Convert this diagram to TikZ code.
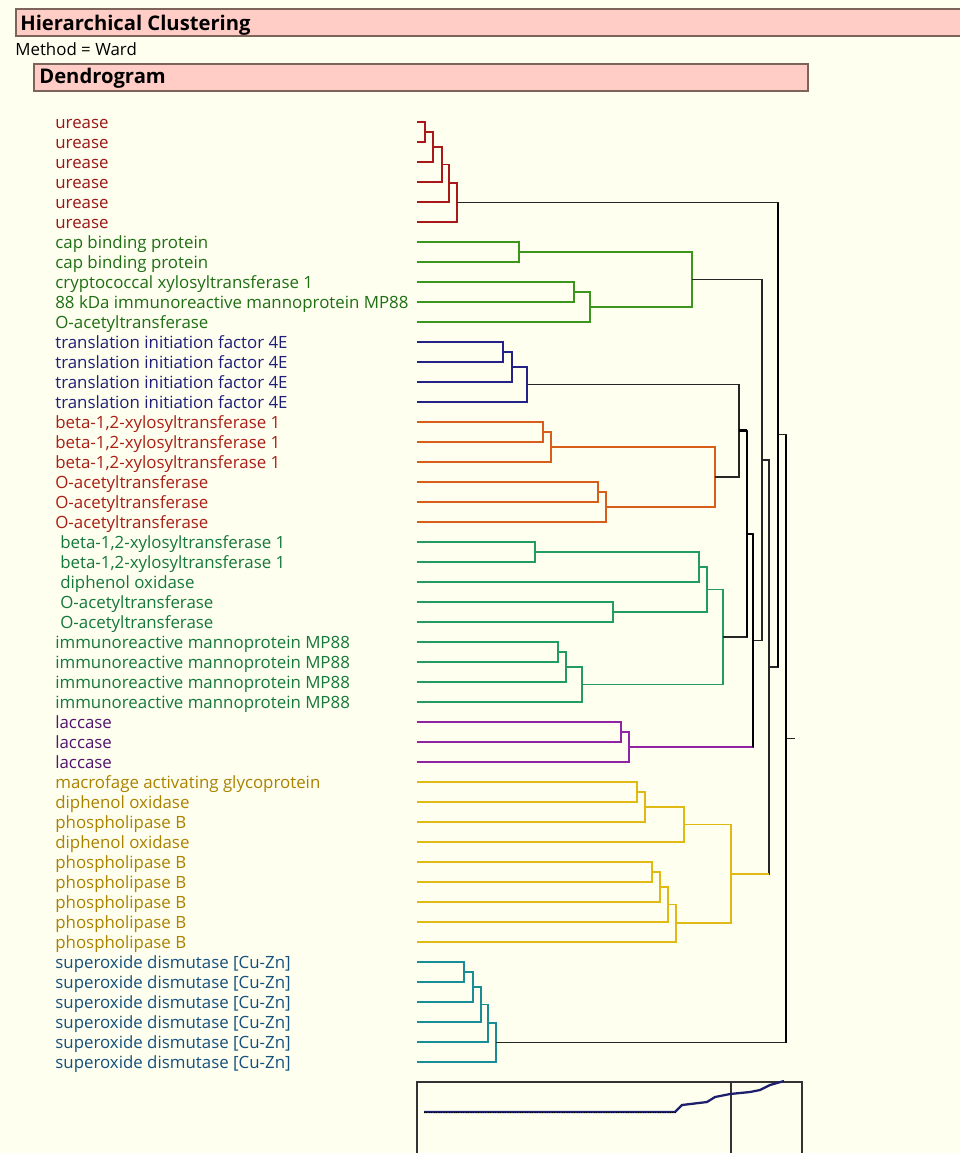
\documentclass[tikz,border=0pt]{standalone}
\usepackage{fontspec}
\setmainfont{Open Sans}

\definecolor{paper}{RGB}{255,255,240}
\definecolor{barfill}{RGB}{255,205,198}
\definecolor{bardraw}{RGB}{125,100,90}
\definecolor{ure}{RGB}{170,25,25}
\definecolor{grn}{RGB}{60,150,30}
\definecolor{blu}{RGB}{35,35,135}
\definecolor{ora}{RGB}{215,95,25}
\definecolor{tea}{RGB}{35,155,100}
\definecolor{lac}{RGB}{145,35,165}
\definecolor{yel}{RGB}{225,185,20}
\definecolor{sod}{RGB}{25,140,150}
\definecolor{txture}{RGB}{155,20,20}
\definecolor{txtgrn}{RGB}{30,110,20}
\definecolor{txtblu}{RGB}{30,30,120}
\definecolor{txtora}{RGB}{170,30,20}
\definecolor{txttea}{RGB}{20,120,60}
\definecolor{txtlac}{RGB}{80,20,110}
\definecolor{txtyel}{RGB}{170,130,0}
\definecolor{txtsod}{RGB}{20,80,125}
\definecolor{curve}{RGB}{30,30,110}

\begin{document}
\begin{tikzpicture}[x=0.02cm, y=-0.02cm,
    bar/.style={fill=barfill},
    rim/.style={draw=bardraw, line width=0.7pt},
    head/.style={anchor=base west, inner sep=0pt, font=\bfseries\fontsize{11.5}{13}\selectfont},
    leaf/.style={anchor=base west, inner sep=0pt, font=\fontsize{9.6}{11}\selectfont},
    br/.style={line width=1pt},
    link/.style={black!85, line width=0.8pt},
    hub/.style={black, line width=1.6pt}]

  \useasboundingbox[fill=paper] (0,0) rectangle (960,1153);

  % title bars
  \fill[bar] (16,9) rectangle (960,36);
  \draw[rim] (960,9) -- (16,9) -- (16,36) -- (960,36);
  \node[head] (title) at (20,30) {Hierarchical Clustering};
  \node[leaf] (method) at (15,55) {Method = Ward};
  \draw[bar, rim] (34,64) rectangle (808,91);
  \node[head] (dendro) at (39,83) {Dendrogram};

  % leaf labels and leaf ends
  \foreach \lab/\col/\dx [count=\i from 0] in {
      urease/ure/0, urease/ure/0, urease/ure/0, urease/ure/0, urease/ure/0, urease/ure/0,
      cap binding protein/grn/0, cap binding protein/grn/0,
      cryptococcal xylosyltransferase 1/grn/0,
      88 kDa immunoreactive mannoprotein MP88/grn/0,
      O-acetyltransferase/grn/0,
      translation initiation factor 4E/blu/0, translation initiation factor 4E/blu/0,
      translation initiation factor 4E/blu/0, translation initiation factor 4E/blu/0,
      {beta-1,2-xylosyltransferase 1}/ora/0, {beta-1,2-xylosyltransferase 1}/ora/0,
      {beta-1,2-xylosyltransferase 1}/ora/0,
      O-acetyltransferase/ora/0, O-acetyltransferase/ora/0, O-acetyltransferase/ora/0,
      {beta-1,2-xylosyltransferase 1}/tea/5, {beta-1,2-xylosyltransferase 1}/tea/5,
      diphenol oxidase/tea/5,
      O-acetyltransferase/tea/5, O-acetyltransferase/tea/5,
      immunoreactive mannoprotein MP88/tea/0, immunoreactive mannoprotein MP88/tea/0,
      immunoreactive mannoprotein MP88/tea/0, immunoreactive mannoprotein MP88/tea/0,
      laccase/lac/0, laccase/lac/0, laccase/lac/0,
      macrofage activating glycoprotein/yel/0,
      diphenol oxidase/yel/0,
      phospholipase B/yel/0,
      diphenol oxidase/yel/0,
      phospholipase B/yel/0, phospholipase B/yel/0, phospholipase B/yel/0,
      phospholipase B/yel/0, phospholipase B/yel/0,
      superoxide dismutase [Cu-Zn]/sod/0, superoxide dismutase [Cu-Zn]/sod/0,
      superoxide dismutase [Cu-Zn]/sod/0, superoxide dismutase [Cu-Zn]/sod/0,
      superoxide dismutase [Cu-Zn]/sod/0, superoxide dismutase [Cu-Zn]/sod/0}{
    \node[leaf, text=txt\col] (l\i) at (55+\dx,128+20*\i) {\lab};
    \coordinate (e\i) at (417,122+20*\i);
  }

  % merge points
  \foreach \n/\mx/\my in {u1/425/132, u2/433/147, u3/442/164.5, u4/449/183.25, u5/457/202.6,
      g1/519/252, g2/574/292, g3/590/307, g4/692/279.5,
      b1/503/352, b2/512/367, b3/527/384.5,
      o1/543/432, o2/551/447, o3/598/492, o4/606/507, o5/715/477,
      t1/535/552, t2/699/567, t3/613/612, t4/707/589.5, t5/558/652, t6/566/667,
      t7/582/684.5, t8/723/637,
      a1/621/732, a2/629/747,
      y1/637/792, y2/645/807, y3/684/824.5, y4/652/872, y5/660/887, y6/668/904.5,
      y7/676/923.25, y8/731/873.9,
      s1/464/972, s2/473/987, s3/481/1004.5, s4/488/1023.25, s5/496/1042.6,
      n1/739/430.75, n2/747/533.9, n3/753/640.4, n4/762/459.95, n5/769/666.9,
      n6/778/434.75, n7/786/738.7}
    \coordinate (\n) at (\mx,\my);
  \coordinate (root) at (795,738.7);

  % cluster brackets
  \foreach \a/\n/\b/\col in {e0/u1/e1/ure, u1/u2/e2/ure, u2/u3/e3/ure, u3/u4/e4/ure, u4/u5/e5/ure,
      e6/g1/e7/grn, e8/g2/e9/grn, g2/g3/e10/grn, g1/g4/g3/grn,
      e11/b1/e12/blu, b1/b2/e13/blu, b2/b3/e14/blu,
      e15/o1/e16/ora, o1/o2/e17/ora, e18/o3/e19/ora, o3/o4/e20/ora, o2/o5/o4/ora,
      e21/t1/e22/tea, t1/t2/e23/tea, e24/t3/e25/tea, t2/t4/t3/tea,
      e26/t5/e27/tea, t5/t6/e28/tea, t6/t7/e29/tea, t4/t8/t7/tea,
      e30/a1/e31/lac, a1/a2/e32/lac,
      e33/y1/e34/yel, y1/y2/e35/yel, y2/y3/e36/yel, e37/y4/e38/yel, y4/y5/e39/yel,
      y5/y6/e40/yel, y6/y7/e41/yel, y3/y8/y7/yel,
      e42/s1/e43/sod, s1/s2/e44/sod, s2/s3/e45/sod, s3/s4/e46/sod, s4/s5/e47/sod}
    \draw[br, \col] (\a) -| (\n) |- (\b);

  % upper joins
  \draw[link] (b3) -| (n1) |- (o5);
  \draw[link] (n1) -| (n2) |- (t8);
  \draw[link] (n2) -| (n3) |- (a2);
  \draw[link] (g4) -| (n4) |- (n3);
  \draw[link] (n4) -| (n5) |- (y8);
  \draw[link] (u5) -| (n6) |- (n5);
  \draw[link] (n6) -| (n7) |- (s5);
  \draw[link] (n7) -- (root);
  \draw[br, lac] (a2) -- (a2 -| n3);
  \draw[br, yel] (y8) -- (y8 -| n5);
  \draw[hub] (n1) -- (n1 -| n2) (n2 |- n1) -- (n2 |- t8);
  \draw[hub, line width=1.1pt] (n2) -- (n2 -| n3) (n3 |- n2) -- (n3 |- a2);
  \draw[hub] (n6 |- u5) -- (n6 |- n5);
  \draw[hub] (n7 |- n6) -- (n7 |- s5);

  % distance plot
  \draw[black!80, line width=0.6pt] (417,1153) -- (417,1082) -- (802,1082) -- (802,1153);
  \draw[black!80, line width=0.6pt] (731,1082) -- (731,1153);
  \draw[curve, line width=1.3pt] (424,1112) -- (675,1112) -- (682,1105) -- (707,1102)
      -- (715,1097) -- (730,1094) -- (750,1092) -- (760,1090) -- (770,1085) -- (784,1081);
  \draw[black, densely dotted, line width=0.4pt] (424,1112) -- (675,1112);
\end{tikzpicture}
\end{document}
